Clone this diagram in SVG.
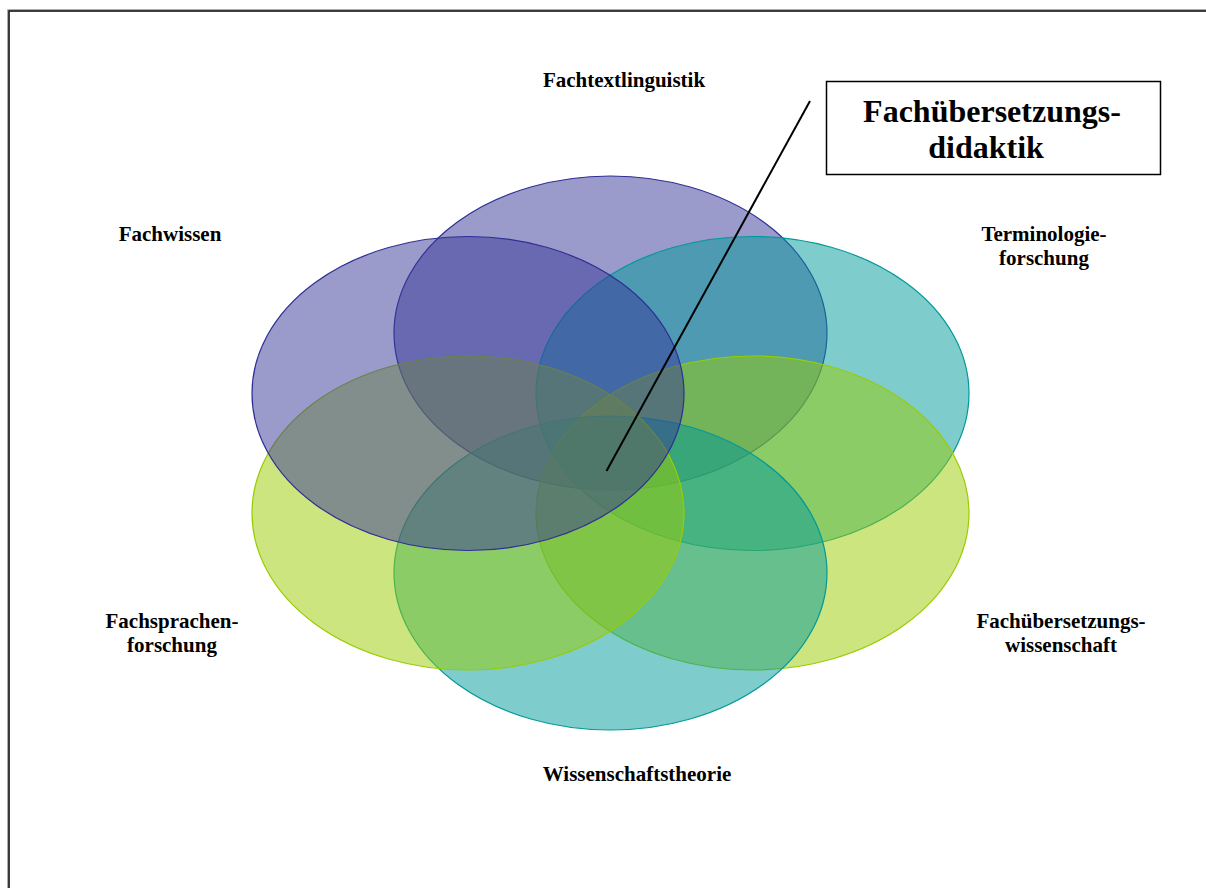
<svg xmlns="http://www.w3.org/2000/svg" width="1206" height="888" viewBox="0 0 1206 888">
  <style>
    .lbl { font-family: "Liberation Serif", "Times New Roman", serif; font-weight: bold; font-size: 21px; fill: #000; text-anchor: middle; }
    .big { font-family: "Liberation Serif", "Times New Roman", serif; font-weight: bold; font-size: 32px; fill: #000; text-anchor: middle; }
    .purple { fill: rgb(55,55,151); fill-opacity: 0.5; stroke: #2E2E96; stroke-width: 1.2; }
    .teal { fill: rgb(0,153,153); fill-opacity: 0.5; stroke: #009999; stroke-width: 1.2; }
    .green { fill: rgb(153,204,0); fill-opacity: 0.5; stroke: #99CC00; stroke-width: 1.2; }
  </style>
  <rect width="1206" height="888" fill="#fff"/>
  <!-- page frame -->
  <rect x="8.5" y="10.5" width="1300" height="1000" fill="none" stroke="#9a9a9a" stroke-width="2.6"/>
  <rect x="9" y="11" width="1300" height="1000" fill="none" stroke="#111" stroke-width="1.4"/>

  <!-- overlapping fields, drawn clockwise from the top -->
  <g id="field-fachtextlinguistik"><ellipse class="purple" cx="610.5" cy="333" rx="216.5" ry="157"/></g>
  <g id="field-terminologieforschung"><ellipse class="teal" cx="752.5" cy="393.5" rx="216.5" ry="157"/></g>
  <g id="field-fachuebersetzungswissenschaft"><ellipse class="green" cx="752.5" cy="513" rx="216.5" ry="157"/></g>
  <g id="field-wissenschaftstheorie"><ellipse class="teal" cx="610.5" cy="573" rx="216.5" ry="157"/></g>
  <g id="field-fachsprachenforschung"><ellipse class="green" cx="468" cy="513" rx="216" ry="157"/></g>
  <g id="field-fachwissen"><ellipse class="purple" cx="468" cy="393.5" rx="216" ry="157"/></g>

  <!-- labels -->
  <g id="label-fachtextlinguistik"><text class="lbl" x="624" y="87">Fachtextlinguistik</text></g>
  <g id="label-fachwissen"><text class="lbl" x="170" y="241">Fachwissen</text></g>
  <g id="label-terminologieforschung">
    <text class="lbl" x="1044" y="241">Terminologie-</text>
    <text class="lbl" x="1044" y="265">forschung</text>
  </g>
  <g id="label-fachsprachenforschung">
    <text class="lbl" x="172" y="628">Fachsprachen-</text>
    <text class="lbl" x="172" y="652">forschung</text>
  </g>
  <g id="label-fachuebersetzungswissenschaft">
    <text class="lbl" x="1061" y="628">Fachübersetzungs-</text>
    <text class="lbl" x="1061" y="652">wissenschaft</text>
  </g>
  <g id="label-wissenschaftstheorie"><text class="lbl" x="637" y="781">Wissenschaftstheorie</text></g>

  <!-- callout box -->
  <g id="callout-didaktik">
    <rect x="826.5" y="81.5" width="334" height="93" fill="#fff" stroke="#000" stroke-width="1.5"/>
    <text class="big" x="992" y="122">Fachübersetzungs-</text>
    <text class="big" x="986" y="158">didaktik</text>
  </g>

  <!-- pointer line -->
  <g id="connectors">
    <line x1="810" y1="101" x2="606.5" y2="471" stroke="#000" stroke-width="2"/>
  </g>
</svg>
